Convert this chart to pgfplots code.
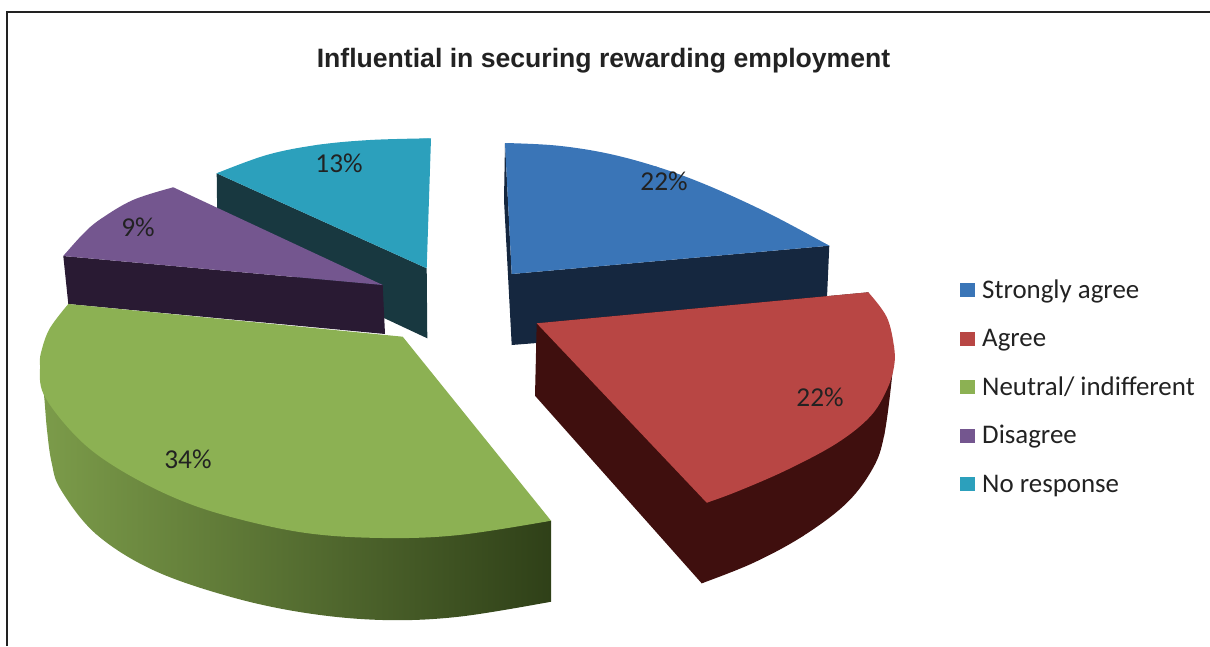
\documentclass[border=0pt]{standalone}
\usepackage{pgfplots}
\pgfplotsset{compat=1.18}
\usepackage{fontspec}
\setmainfont{Carlito}
\newfontfamily\titlefont{Liberation Sans}

\definecolor{blueTop}{HTML}{3A75B7}
\definecolor{blueSide}{HTML}{15273F}
\definecolor{redTop}{HTML}{B84644}
\definecolor{redSide}{HTML}{3F0F0E}
\definecolor{greenTop}{HTML}{8CB153}
\definecolor{greenWallA}{HTML}{7C9C4A}
\definecolor{greenWallB}{HTML}{5D7A3C}
\definecolor{greenWallC}{HTML}{2F4018}
\definecolor{purpleTop}{HTML}{74568F}
\definecolor{purpleSide}{HTML}{291A33}
\definecolor{tealTop}{HTML}{2CA0BC}
\definecolor{tealSide}{HTML}{183840}
\definecolor{inkColor}{HTML}{222222}

\pgfplotsset{
  swatch/.style={
    legend image code/.code={
      \fill[##1, draw=none] (0pt,-3pt) rectangle (15pt,11pt);
    },
    #1
  },
  % a slice is a straight-edged wedge plus the curved rim closed along its chord
  wedge/.style={forget plot, draw=none, #1},
  rim/.style={forget plot, draw=none, smooth, tension=0.6, #1},
}

\begin{document}
\begin{tikzpicture}
\useasboundingbox (0,0) rectangle (1210pt,646pt);
\begin{axis}[
  scale only axis,
  width=1210pt, height=646pt,
  xmin=0, xmax=1210, ymin=0, ymax=646,
  y dir=reverse,
  axis lines=none,
  legend style={
    at={(axis cs:960,282)}, anchor=north west,
    draw=none, fill=none,
    font=\fontsize{26.9}{30}\selectfont\color{inkColor},
    row sep=24.5pt, inner sep=0pt,
    nodes={inner sep=0pt, anchor=west, text height=16pt, text depth=8pt},
  },
  legend cell align=left,
]
% legend swatches
\addlegendimage{swatch, fill=blueTop}
\addlegendentry{\hspace{7pt}Strongly agree}
\addlegendimage{swatch, fill=redTop}
\addlegendentry{\hspace{7pt}Agree}
\addlegendimage{swatch, fill=greenTop}
\addlegendentry{\hspace{7pt}Neutral/ indifferent}
\addlegendimage{swatch, fill=purpleTop}
\addlegendentry{\hspace{7pt}Disagree}
\addlegendimage{swatch, fill=tealTop}
\addlegendentry{\hspace{7pt}No response}

% frame along the top and left
\addplot[forget plot, inkColor, line width=1.3pt] coordinates {(7,646) (7,12) (1210,12)};

% No response, 13%
\addplot[wedge={fill=tealSide}] coordinates {
  (216.7,173.3) (426.7,268.3) (427.3,338.3) (217.5,240)} -- cycle;
\addplot[wedge={fill=tealTop}] coordinates {
  (216.7,173.3) (316.7,145) (431,138.3) (426.7,268.3)} -- cycle;
\addplot[rim={fill=tealTop}] coordinates {
  (216.7,173.3) (266.7,155) (316.7,145) (370,140) (431,138.3)} -- cycle;

% Disagree, 9%
\addplot[wedge={fill=purpleSide}] coordinates {
  (63.3,256) (382.7,285) (385,334) (68.3,304)} -- cycle;
\addplot[wedge={fill=purpleTop}] coordinates {
  (63.3,256) (100,219.5) (173.3,187.3) (382.7,285)} -- cycle;
\addplot[rim={fill=purpleTop}] coordinates {
  (63.3,256) (83,234) (100,219.5) (133,200) (173.3,187.3)} -- cycle;

% Strongly agree, 22%
\addplot[wedge={fill=blueSide}] coordinates {
  (505,143) (504,200) (511.7,345) (826,320) (829.3,245.7) (511.7,274)} -- cycle;
\addplot[wedge={fill=blueTop}] coordinates {
  (505,143) (656.7,166.7) (829.3,245.7) (511.7,274)} -- cycle;
\addplot[rim={fill=blueTop}] coordinates {
  (505,143) (556,145.5) (606.7,153.3) (656.7,166.7) (706.7,185) (768,213) (829.3,245.7)} -- cycle;

% Agree, 22%
\addplot[wedge={fill=redSide}] coordinates {
  (536.7,323.3) (535,395.7) (701.7,583.3) (803,536) (884,436) (894,346.7) (868.3,292.3)} -- cycle;
\addplot[rim={fill=redSide}] coordinates {
  (701.7,583.3) (753,563) (803,536) (846.7,503) (873,468) (884,436) (891.7,380) (894,346.7)} -- cycle;
\addplot[wedge={fill=redTop}] coordinates {
  (536.7,323.3) (868.3,292.3) (886.7,390) (706.7,502.7)} -- cycle;
\addplot[rim={fill=redTop}] coordinates {
  (868.3,292.3) (886.7,317) (894,346.7) (894,366.7) (886.7,390) (870,416.7) (836.7,443.3)
  (786.7,470) (736.7,491.7) (706.7,502.7)} -- cycle;

% Neutral/ indifferent, 34%: wall pieces share one x range, so their gradients line up
\addplot[wedge={left color=greenWallA, middle color=greenWallB, right color=greenWallC}] coordinates {
  (40,365) (383,538) (551,520.7) (551,601.7) (383,620) (96,534)} -- cycle;
\addplot[rim={left color=greenWallA, middle color=greenWallB, right color=greenWallC}] coordinates {
  (40,365) (44,395) (47,430) (51.7,463) (61,490) (96,534) (153,570) (230,596.7) (306,613)
  (383,620) (459,616.7) (551,601.7)} -- cycle;
\addplot[wedge={fill=greenTop}] coordinates {
  (68.3,304) (402.7,336.7) (551,520.7) (230,516.7)} -- cycle;
\addplot[rim={fill=greenTop}] coordinates {
  (551,520.7) (459,535) (383,538) (306,533) (230,516.7) (172,496.7) (115,466.7) (76.5,436.7)
  (44,395) (40,365) (41.7,350) (50,328) (68.3,304)} -- cycle;

% title and value labels
\node[font=\titlefont\bfseries\fontsize{26.6}{30}\selectfont, text=inkColor] at (axis cs:603.5,61) {Influential in securing rewarding employment};
\node[font=\fontsize{27.3}{30}\selectfont, text=inkColor] at (axis cs:664,181) {22\%};
\node[font=\fontsize{27.3}{30}\selectfont, text=inkColor] at (axis cs:820,397) {22\%};
\node[font=\fontsize{27.3}{30}\selectfont, text=inkColor] at (axis cs:188,459) {34\%};
\node[font=\fontsize{27.3}{30}\selectfont, text=inkColor] at (axis cs:138,227) {9\%};
\node[font=\fontsize{27.3}{30}\selectfont, text=inkColor] at (axis cs:339,163) {13\%};
\end{axis}
\end{tikzpicture}
\end{document}
